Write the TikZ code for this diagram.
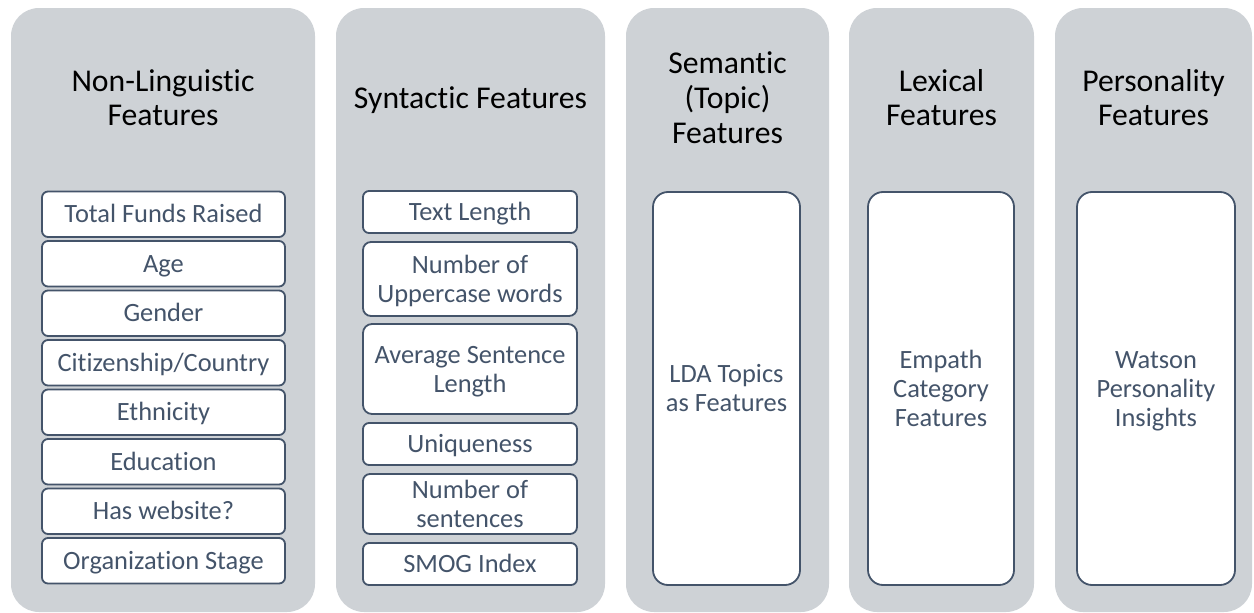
\documentclass[tikz,border=0pt]{standalone}
\usepackage{fontspec}
\setmainfont{Carlito}[Ligatures={NoCommon}]
\definecolor{colbg}{HTML}{CED2D6}
\definecolor{ink}{HTML}{44546A}
\newcommand\tstrut{\rule[-7.4pt]{0pt}{34.8pt}}
\newcommand\istrut{\rule[-6pt]{0pt}{29pt}}
\begin{document}
\begin{tikzpicture}[x=1pt,y=-1pt,
  colbox/.style={fill=colbg, draw=none, rounded corners=28pt, inner sep=0pt, minimum height=604pt},
  coltitle/.style={font=\fontsize{31.7}{34.8}\selectfont, align=center, text=black, inner sep=0pt},
  item/.style={draw=ink, line width=1.8pt, fill=white, rounded corners=6pt, text=ink,
    font=\fontsize{26.4}{29}\selectfont, align=center, inner sep=0pt},
  itemA/.style={item, minimum width=243pt, minimum height=45.5pt},
  itemB/.style={item, minimum width=214pt},
  bigitem/.style={item, rounded corners=15pt, minimum height=393pt},
]
\useasboundingbox (0,0) rectangle (1254,613);
% columns
\node[colbox, minimum width=304pt] (c1) at (163,310) {};
\node[colbox, minimum width=269pt] (c2) at (470.5,310) {};
\node[colbox, minimum width=203pt] (c3) at (727.5,310) {};
\node[colbox, minimum width=185pt] (c4) at (941.5,310) {};
\node[colbox, minimum width=197pt] (c5) at (1153.5,310) {};
% titles
\node[coltitle] (t1) at (163,98.5) {\tstrut Non-Linguistic\\\tstrut Features};
\node[coltitle] (t2) at (470.5,98.5) {\tstrut Syntactic Features};
\node[coltitle] (t3) at (727.5,98.5) {\tstrut Semantic\\\tstrut (Topic)\\\tstrut Features};
\node[coltitle] (t4) at (941.5,98.5) {\tstrut Lexical\\\tstrut Features};
\node[coltitle] (t5) at (1153.5,98.5) {\tstrut Personality\\\tstrut Features};
% column 1 items
\node[itemA] (a1) at (163.5,214.25) {\istrut Total Funds Raised};
\node[itemA] (a2) at (163.5,263.75) {\istrut Age};
\node[itemA] (a3) at (163.5,313.25) {\istrut Gender};
\node[itemA] (a4) at (163.5,362.75) {\istrut Citizenship/Country};
\node[itemA] (a5) at (163.5,412.25) {\istrut Ethnicity};
\node[itemA] (a6) at (163.5,461.75) {\istrut Education};
\node[itemA] (a7) at (163.5,511.25) {\istrut Has website?};
\node[itemA] (a8) at (163.5,560.75) {\istrut Organization Stage};
% column 2 items
\node[itemB, minimum height=42pt] (b1) at (470,212) {\istrut Text Length};
\node[itemB, minimum height=74pt, rounded corners=8pt] (b2) at (470,279) {\istrut Number of\\\istrut Uppercase words};
\node[itemB, minimum height=90pt, rounded corners=9pt] (b3) at (470,369) {\istrut Average Sentence\\\istrut Length};
\node[itemB, minimum height=42pt] (b4) at (470,444) {\istrut Uniqueness};
\node[itemB, minimum height=60pt, rounded corners=7pt] (b5) at (470,504) {\istrut Number of\\\istrut sentences};
\node[itemB, minimum height=42pt] (b6) at (470,564) {\istrut SMOG Index};
% columns 3-5 items
\node[bigitem, minimum width=147pt] (d3) at (726.5,388.5) {\istrut LDA Topics\\\istrut as Features};
\node[bigitem, minimum width=146pt] (d4) at (941,388.5) {\istrut Empath\\\istrut Category\\\istrut Features};
\node[bigitem, minimum width=158pt] (d5) at (1156,388.5) {\istrut Watson\\\istrut Personality\\\istrut Insights};
\end{tikzpicture}
\end{document}
